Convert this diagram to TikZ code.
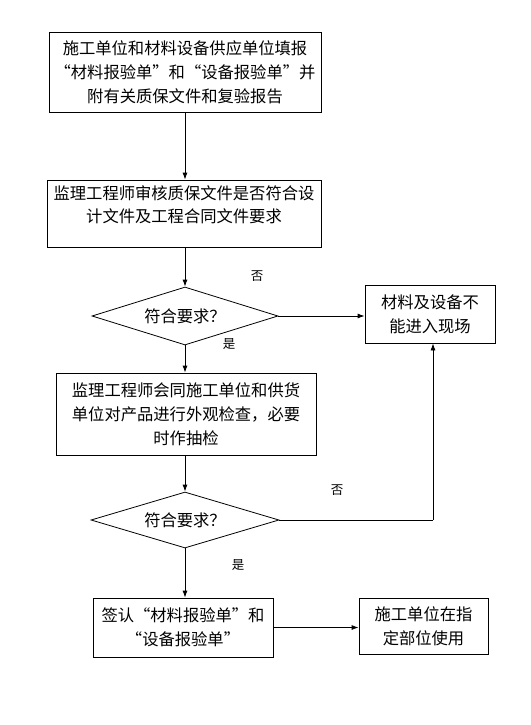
\documentclass[tikz,border=0pt]{standalone}
\usepackage{fontspec}
\newfontfamily\cjk{Noto Sans CJK SC}
\usetikzlibrary{shapes.geometric,arrows.meta}
\begin{document}
\begin{tikzpicture}[x=1pt,y=-1pt,
  box/.style={draw, line width=0.8pt, inner sep=0pt, align=center,
    font=\cjk\fontsize{16.3}{24}\selectfont},
  txt/.style={inner sep=0pt, align=center, font=\cjk\fontsize{16.3}{23}\selectfont},
  dia/.style={draw, diamond, aspect=3.2, line width=0.8pt, inner sep=0pt,
    font=\cjk\fontsize{16.3}{20}\selectfont},
  arr/.style={-{Latex[length=7pt,width=5pt]}, line width=0.8pt},
  lin/.style={line width=0.8pt},
  lbl/.style={inner sep=0pt, font=\cjk\fontsize{12.5}{14}\selectfont}]
\useasboundingbox[fill=white] (0,0) rectangle (530,725);

\node[box, minimum width=272pt, minimum height=80pt] (b1) at (185,72)
  {施工单位和材料设备供应单位填报\\“材料报验单”和“设备报验单”并\\附有关质保文件和复验报告};
\node[box, minimum width=274pt, minimum height=67pt] (b2) at (184,213.5) {};
\node[txt, anchor=north] (b2t) at (184,185)
  {监理工程师审核质保文件是否符合设\\计文件及工程合同文件要求};
\node[dia, minimum width=186pt, minimum height=58pt] (d1) at (185,316) {符合要求？};
\node[box, minimum width=130pt, minimum height=58pt] (rb) at (430,314)
  {材料及设备不\\能进入现场};
\node[box, minimum width=260pt, minimum height=82pt] (b3) at (186,414)
  {监理工程师会同施工单位和供货\\单位对产品进行外观检查，必要\\时作抽检};
\node[dia, minimum width=188pt, minimum height=56pt] (d2) at (185,520) {符合要求？};
\node[box, minimum width=180pt, minimum height=59pt] (b4) at (183,627.5)
  {签认“材料报验单”和\\“设备报验单”};
\node[box, minimum width=129pt, minimum height=56pt] (b5) at (423.5,626)
  {施工单位在指\\定部位使用};

\node[lbl] (n1) at (257,276) {否};
\node[lbl] (y1) at (229,344) {是};
\node[lbl] (n2) at (337,490) {否};
\node[lbl] (y2) at (238,565) {是};

\coordinate (c1) at (433,520);

\draw[arr] (b1.south) -- (b1.south |- b2.north);
\draw[arr] (b1.south |- b2.south) -- (b1.south |- d1.north);
\draw[arr] (d1.east) -- (d1.east -| rb.west);
\draw[arr] (d1.south) -- (d1.south |- b3.north);
\draw[arr] (d1.south |- b3.south) -- (d2.north);
\draw[lin] (d2.east) -- (c1);
\draw[arr] (c1) -- (c1 |- rb.south);
\draw[arr] (d2.south) -- (d2.south |- b4.north);
\draw[arr] (b4.east) -- (b4.east -| b5.west);
\end{tikzpicture}
\end{document}
